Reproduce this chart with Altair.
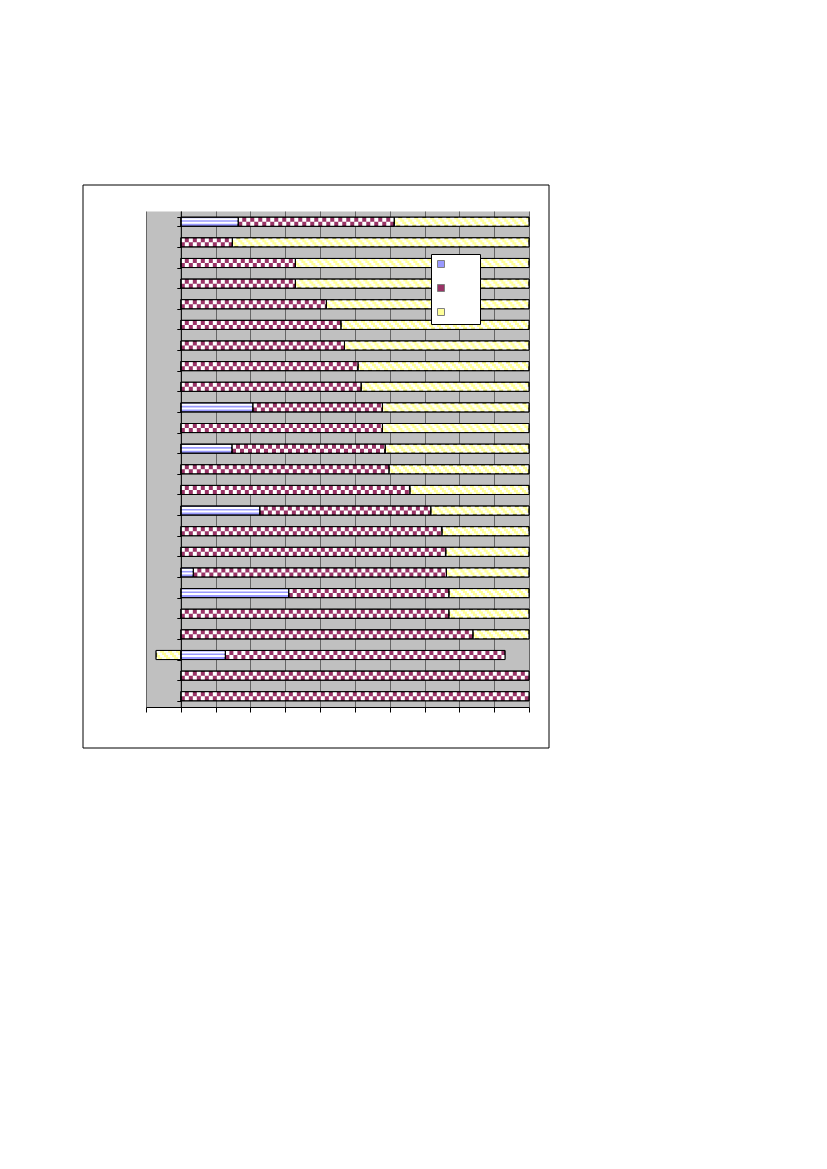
import altair as alt
import pandas as pd

# ---- data ----
categories = [f"Row {i}" for i in range(1, 25)]
series = ["Series 1", "Series 2", "Series 3"]
blue = [16.5, 0, 0, 0, 0, 0, 0, 0, 0, 20.7, 0, 14.7, 0, 0, 22.7, 0, 0, 3.6, 31.0, 0, 0, 12.8, 0, 0]
maroon = [44.8, 14.8, 32.9, 32.9, 41.8, 46.0, 47.0, 50.9, 51.8, 37.2, 57.9, 44.0, 59.8, 65.8,
          49.1, 75.0, 76.1, 72.7, 46.0, 77.0, 83.9, 80.3, 100, 100]
yellow = [38.7, 85.2, 67.1, 67.1, 58.2, 54.0, 53.0, 49.1, 48.2, 42.1, 42.1, 41.3, 40.2, 34.2,
          28.2, 25.0, 23.9, 23.7, 23.0, 23.0, 16.1, -7.1, 0, 0]
colors = ["#9999FF", "#993366", "#FFFF99"]

# ---- stacking ----
rows = []
for c, b, m, y in zip(categories, blue, maroon, yellow):
    if b > 0:
        rows.append(dict(cat=c, series=series[0], x0=0, x1=b))
    if m > 0:
        rows.append(dict(cat=c, series=series[1], x0=b, x1=b + m))
    if y > 0:
        rows.append(dict(cat=c, series=series[2], x0=b + m, x1=b + m + y))
    elif y < 0:
        rows.append(dict(cat=c, series=series[2], x0=y, x1=0))
df = pd.DataFrame(rows)

X = alt.X("x0:Q",
          scale=alt.Scale(domain=[-10, 100], nice=False, zero=False),
          axis=alt.Axis(values=list(range(-10, 101, 10)), labels=False, ticks=True,
                        tickSize=5, tickColor="black", domainColor="black",
                        grid=True, gridColor="#666666", gridWidth=1),
          title=None)
X2 = alt.X2("x1:Q")
Y = alt.Y("cat:N", sort=categories,
          scale=alt.Scale(paddingInner=0.56, paddingOuter=0.3),
          axis=alt.Axis(labels=False, ticks=True, tickBand="extent", tickSize=4,
                        tickColor="black", domainColor="black", offset=-34.8,
                        grid=False, zindex=1),
          title=None)

base = alt.Chart(df).mark_bar(stroke="black", strokeWidth=1).encode(
    x=X, x2=X2, y=Y,
    color=alt.Color("series:N",
                    scale=alt.Scale(domain=series, range=colors),
                    legend=alt.Legend(orient="none", legendX=285, legendY=43, title=None,
                                      labelExpr="''", labelOffset=29, labelFontSize=8,
                                      symbolType="square", symbolSize=49,
                                      symbolStrokeColor="#808080", symbolStrokeWidth=1,
                                      fillColor="white", strokeColor="black",
                                      padding=6, rowPadding=12)),
)

d_blue = df[df.series == series[0]]
d_mar = df[df.series == series[1]]
d_yel = df[df.series == series[2]]

layers = [base]
# horizontal stripes for blue
for off, w in [(-2.6, 2), (1.0, 2)]:
    layers.append(alt.Chart(d_blue).mark_rule(color="white", strokeWidth=w, yOffset=off)
                  .encode(x=X, x2=X2, y=Y))
# checkerboard for maroon
for off, dash_off in [(-2.1, 0), (2.1, 4)]:
    layers.append(alt.Chart(d_mar).mark_rule(color="white", strokeWidth=4.2, yOffset=off,
                                             strokeDash=[4, 4], strokeDashOffset=dash_off)
                  .encode(x=X, x2=X2, y=Y))
# diagonal stripes for yellow
for k, off in enumerate([-3.3, -1.1, 1.1, 3.3]):
    layers.append(alt.Chart(d_yel).mark_rule(color="white", strokeWidth=2.2, yOffset=off,
                                             strokeDash=[4, 4], strokeDashOffset=8 - 2 * k)
                  .encode(x=X, x2=X2, y=Y))
# outlines on top
layers.append(alt.Chart(df).mark_bar(fillOpacity=0, stroke="black", strokeWidth=1)
              .encode(x=X, x2=X2, y=Y))
# outer chart frame
frame = alt.Chart(alt.Data(values=[{"a": 1}])).mark_rect(
    fillOpacity=0, stroke="black", strokeWidth=1
).encode(x=alt.value(-63), x2=alt.value(403), y=alt.value(-26), y2=alt.value(537))
layers.append(frame)

chart = alt.layer(*layers).properties(
    width=383, height=496,
    autosize=alt.AutoSizeParams(type="none"),
    padding={"left": 138, "top": 203, "right": 30, "bottom": 50},
    background="white",
).configure_view(fill="#C0C0C0", stroke="transparent")

chart.save("out.html", embed_options={"renderer": "svg", "actions": False})
